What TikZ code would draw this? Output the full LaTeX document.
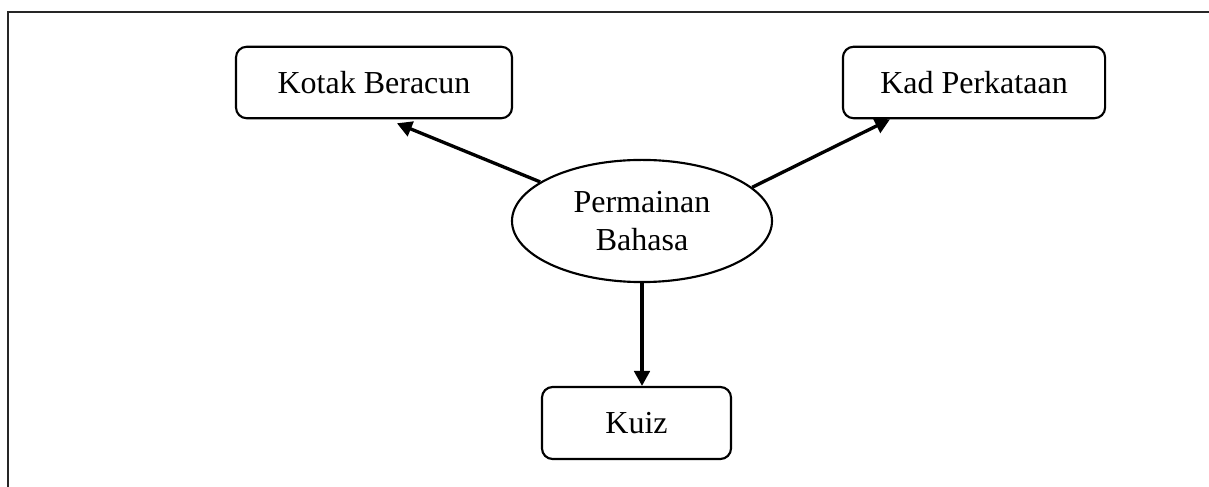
\documentclass[tikz,border=0pt]{standalone}
\usepackage{fontspec}
\setmainfont{Liberation Serif}
\usetikzlibrary{positioning}
\usetikzlibrary{shapes.geometric}
\usetikzlibrary{arrows.meta}

\begin{document}
\begin{tikzpicture}[%
  >={Triangle[length=5.6pt,width=5.8pt]},
  x=0.375pt, y=-0.375pt,
  font=\fontsize{12}{14}\selectfont,
  gamebox/.style={draw, line width=0.8pt, rounded corners=4pt,
    minimum height=26.8pt, inner sep=0pt},
  centre/.style={draw, line width=0.8pt, ellipse, align=center,
    minimum width=97.5pt, minimum height=45.8pt, inner sep=0pt},
  link/.style={->, line width=1.25pt},
  frame/.style={line width=1pt, black!85},
]

  \useasboundingbox (0,0) rectangle (1209,487);

  % sempadan sel
  \draw[frame] (8,487) -- (8,12) -- (1209,12);

  \node[centre] (perm) at (642,221) {Permainan\\Bahasa};

  \node[gamebox, minimum width=103.5pt] (kotak) at (374,82.5) {Kotak Beracun};
  \node[gamebox, minimum width=98.3pt] (kad) at (974,82.5) {Kad Perkataan};
  \node[gamebox, minimum width=70.9pt, minimum height=27pt] (kuiz) at (636.5,423) {Kuiz};

  \draw[link] (perm.159.7) -- ([xshift=8.6pt,yshift=-1.5pt]kotak.south);
  \draw[link] (perm.17.2) -- ([xshift=-31.5pt]kad.south);
  \draw[link] (perm.south) -- (perm.south |- kuiz.north);

\end{tikzpicture}
\end{document}
